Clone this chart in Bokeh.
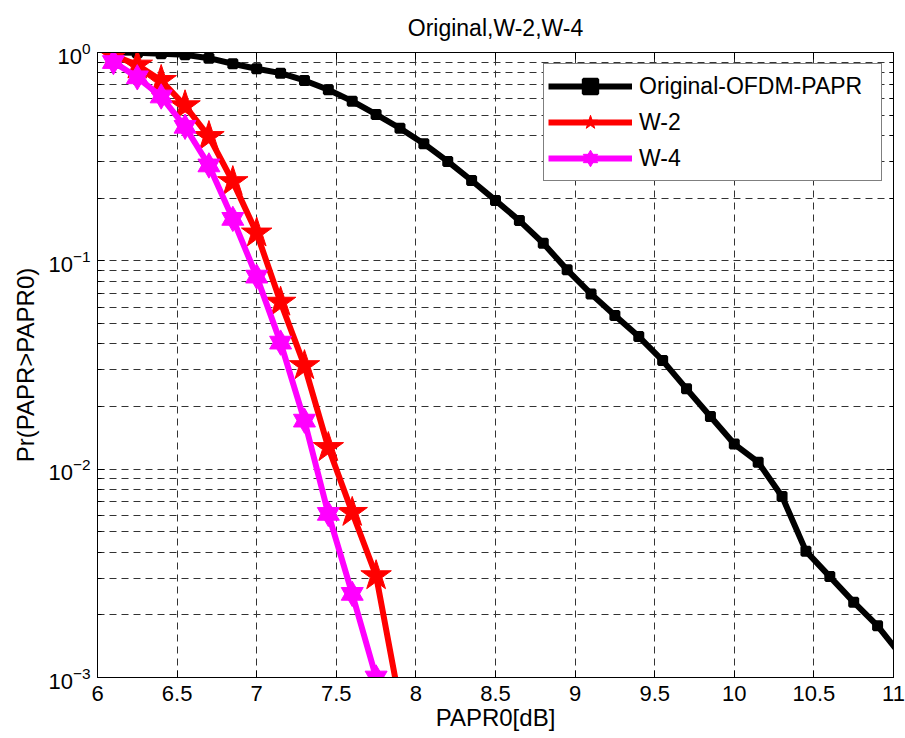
from bokeh.plotting import figure
from bokeh.models import (Range1d, LogAxis, LinearAxis, FixedTicker, Legend, LegendItem,
                          CustomJSTickFormatter)
from bokeh.embed import file_html
from bokeh.resources import INLINE

# ---------------- data ----------------
papr0_orig = [6.1, 6.25, 6.4, 6.55, 6.7, 6.85, 7.0, 7.15, 7.3, 7.45, 7.6, 7.75,
              7.9, 8.05, 8.2, 8.35, 8.5, 8.65, 8.8, 8.95, 9.1, 9.25, 9.4, 9.55,
              9.7, 9.85, 10.0, 10.15, 10.3, 10.45, 10.6, 10.75, 10.9, 11.05]
ccdf_orig = [1.0, 0.998, 0.985, 0.975, 0.939, 0.883, 0.835, 0.796, 0.734, 0.662,
             0.584, 0.504, 0.433, 0.365, 0.300, 0.243, 0.195, 0.156, 0.1215,
             0.0905, 0.0694, 0.0546, 0.0433, 0.0332, 0.0243, 0.0179, 0.0132,
             0.0108, 0.0074, 0.00404, 0.00305, 0.0023, 0.00177, 0.00127]

papr0_w2 = [6.1, 6.25, 6.4, 6.55, 6.7, 6.85, 7.0, 7.15, 7.3, 7.45, 7.6, 7.75, 7.9]
ccdf_w2 = [0.97, 0.87, 0.734, 0.555, 0.395, 0.24, 0.136, 0.0633, 0.0314,
           0.0127, 0.0062, 0.00308, 0.00075]

papr0_w4 = [6.1, 6.25, 6.4, 6.55, 6.7, 6.85, 7.0, 7.15, 7.3, 7.45, 7.6, 7.75]
ccdf_w4 = [0.90, 0.76, 0.615, 0.44, 0.287, 0.159, 0.084, 0.0405, 0.0171,
           0.0061, 0.00252, 0.001]

x_ticks = [6, 6.5, 7, 7.5, 8, 8.5, 9, 9.5, 10, 10.5, 11]
x_tick_labels = ["6", "6.5", "7", "7.5", "8", "8.5", "9", "9.5", "10", "10.5", "11"]
y_ticks = [1e-3, 1e-2, 1e-1, 1.0]
y_minor_mults = [2, 3, 4, 5, 6, 7, 8, 9]

series_names = ["Original-OFDM-PAPR", "W-2", "W-4"]
title_text = "Original,W-2,W-4"
x_label = "PAPR0[dB]"
y_label = "Pr(PAPR>PAPR0)"

FONT = "Liberation Sans"

# ---------------- figure ----------------
p = figure(width=905, height=738,
           x_range=Range1d(6, 11), y_range=Range1d(1e-3, 1.0),
           y_axis_type="log",
           output_backend="svg", toolbar_location=None,
           min_border_left=97, min_border_right=12,
           min_border_top=52, min_border_bottom=61)

p.background_fill_color = "white"
p.border_fill_color = "white"
p.outline_line_color = "black"
p.outline_line_width = 1

p.title.text = title_text
p.title.align = "center"
p.title.text_font = FONT
p.title.text_font_size = "23px"
p.title.text_font_style = "normal"
p.title.text_color = "black"
p.title.standoff = 24

y_minor = [m * t for t in y_ticks[:-1] for m in y_minor_mults]
xt = FixedTicker(ticks=x_ticks, minor_ticks=[])
yt = FixedTicker(ticks=y_ticks, minor_ticks=y_minor)

xa = p.xaxis[0]
xa.ticker = xt
xa.major_label_overrides = {t: l for t, l in zip(x_ticks, x_tick_labels)}
ya = p.yaxis[0]
ya.ticker = yt

for ax in (xa, ya):
    ax.major_tick_in = 7
    ax.major_tick_out = 0
    ax.minor_tick_in = 4
    ax.minor_tick_out = 0
    ax.axis_line_color = "black"
    ax.major_tick_line_color = "black"
    ax.minor_tick_line_color = "black"
    ax.major_label_text_font = FONT
    ax.major_label_text_font_size = "22px"
    ax.major_label_text_color = "black"
    ax.axis_label_text_font = FONT
    ax.axis_label_text_font_size = "24px"
    ax.axis_label_text_font_style = "normal"
    ax.axis_label_text_color = "black"

xa.axis_label = x_label
xa.major_label_standoff = 8
xa.axis_label_standoff = 0
ya.axis_label = y_label
ya.major_label_standoff = 7
ya.axis_label_standoff = 6

# mirror axes (ticks only, no labels)
blank = CustomJSTickFormatter(code="return ''")
top = LinearAxis(ticker=xt, formatter=blank, major_tick_in=7, major_tick_out=0,
                 minor_tick_in=0, minor_tick_out=0, major_label_standoff=0,
                 axis_line_color="black")
right = LogAxis(ticker=yt, formatter=blank, major_tick_in=7, major_tick_out=0,
                minor_tick_in=4, minor_tick_out=0, major_label_standoff=0,
                axis_line_color="black")
p.add_layout(top, "above")
p.add_layout(right, "right")

# grid
p.xgrid.ticker = xt
p.ygrid.ticker = yt
for g in (p.xgrid, p.ygrid):
    g.grid_line_color = "#333333"
    g.grid_line_dash = "7 5"
    g.grid_line_width = 1
p.ygrid.minor_grid_line_color = "#333333"
p.ygrid.minor_grid_line_dash = "7 5"
p.ygrid.minor_grid_line_width = 1

# ---------------- series ----------------
r0l = p.line(papr0_orig, ccdf_orig, line_color="black", line_width=6, line_join="round")
r0m = p.scatter(papr0_orig, ccdf_orig, marker="square", size=8,
                fill_color="black", line_color="black", line_width=3)

r2l = p.line(papr0_w2, ccdf_w2, line_color="red", line_width=6, line_join="round")
r2m = p.scatter(papr0_w2, ccdf_w2, marker="star", size=32,
                fill_color="red", line_color="red", line_width=1)

r4l = p.line(papr0_w4, ccdf_w4, line_color="magenta", line_width=6, line_join="round")
r4a = p.scatter(papr0_w4, ccdf_w4, marker="triangle", size=22,
                fill_color="magenta", line_color="magenta", line_width=1)
r4b = p.scatter(papr0_w4, ccdf_w4, marker="inverted_triangle", size=22,
                fill_color="magenta", line_color="magenta", line_width=1)

legend = Legend(items=[
    LegendItem(label=series_names[0], renderers=[r0l, r0m]),
    LegendItem(label=series_names[1], renderers=[r2l, r2m]),
    LegendItem(label=series_names[2], renderers=[r4l, r4a, r4b]),
])
legend.location = "top_right"
legend.margin = 11
legend.padding = 4
legend.spacing = -2
legend.glyph_width = 84
legend.glyph_height = 36
legend.label_height = 36
legend.label_standoff = 7
legend.label_width = 238
legend.label_text_font = FONT
legend.label_text_font_size = "23px"
legend.label_text_color = "black"
legend.border_line_color = "black"
legend.border_line_width = 1
legend.background_fill_color = "white"
legend.background_fill_alpha = 1.0
p.add_layout(legend)

open("out.html", "w").write(file_html(p, INLINE))
